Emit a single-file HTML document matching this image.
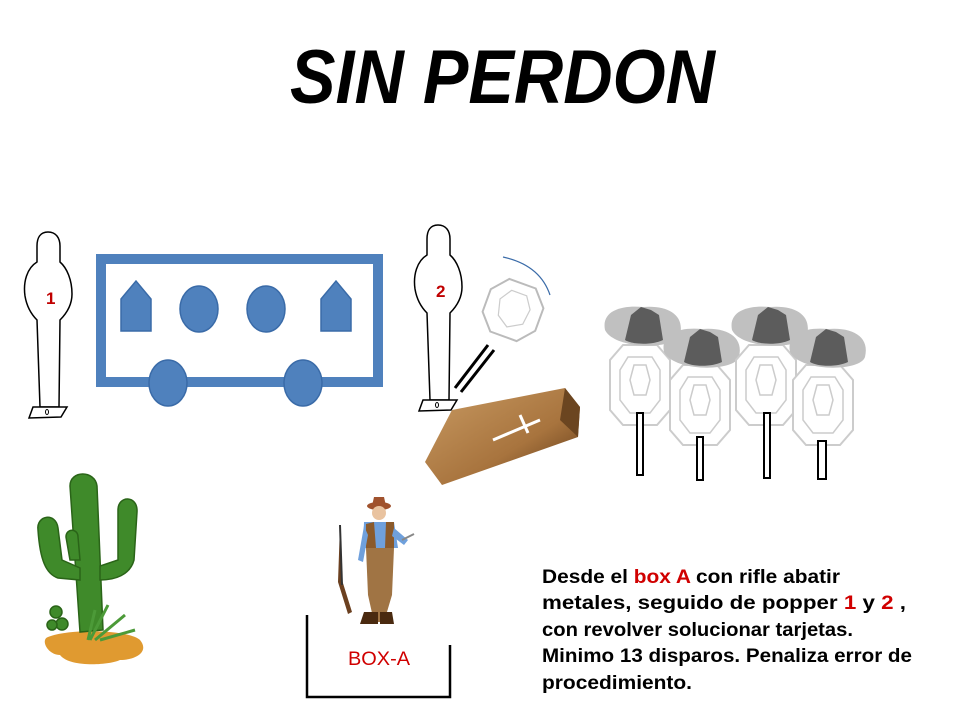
<!DOCTYPE html>
<html><head><meta charset="utf-8"><style>
html,body{margin:0;padding:0;background:#fff;}
svg{display:block;}
text{font-family:"Liberation Sans Narrow","Liberation Sans",sans-serif;}
</style></head><body>
<svg width="960" height="720" viewBox="0 0 960 720" xmlns="http://www.w3.org/2000/svg">
<defs>
<linearGradient id="cof" x1="0" y1="0" x2="1" y2="1">
<stop offset="0" stop-color="#c89a62"/><stop offset="0.6" stop-color="#a8743e"/><stop offset="1" stop-color="#5a3414"/>
</linearGradient>
<g id="sil">
<path d="M23,0 C15,0 12,6 12,14 L12,30 C2,36 -2,50 0,64 C2,76 8,84 12,88 L15,175 L34,175 L35,88 C41,82 47,74 47,62 C47,48 42,36 35,30 L35,14 C35,6 31,0 23,0 Z" fill="#fff" stroke="#000" stroke-width="1.5"/>
<path d="M8,175 L42,175 L36,185 L4,186 Z" fill="#fff" stroke="#000" stroke-width="1.5"/>
<ellipse cx="22" cy="180" rx="1.5" ry="2.5" fill="none" stroke="#000" stroke-width="1"/>
</g>
<g id="tgt">
<path d="M-17,-40 L17,-40 L30,-25 L30,25 L17,40 L-17,40 L-30,25 L-30,-25 Z" fill="#fff" stroke="#ccc" stroke-width="2"/>
<path d="M-12,-28 L12,-28 L20,-15 L20,15 L10,28 L-10,28 L-20,15 L-20,-15 Z" fill="none" stroke="#ccc" stroke-width="1.5"/>
<path d="M-6,-20 L6,-20 L10,-5 L6,10 L-6,10 L-10,-5 Z" fill="none" stroke="#ccc" stroke-width="1.5"/>
</g>
<g id="hat">
<path d="M-38,-5 C-42,-25 -20,-30 0,-28 C25,-30 42,-20 37,0 C32,15 -28,15 -38,-5 Z" fill="#c0c0c0"/>
<path d="M-18,5 L-12,-20 L-2,-28 L8,-25 L16,-20 L20,5 C10,10 -10,10 -18,5 Z" fill="#5c5c5c"/>
</g>
</defs>

<text x="290" y="103" font-family="Liberation Sans" font-size="76" font-weight="bold" font-style="italic" textLength="425" lengthAdjust="spacingAndGlyphs" fill="#000">SIN PERDON</text>

<use href="#sil" x="25" y="232"/>
<text x="46" y="304" font-family="Liberation Sans" font-size="17" font-weight="bold" fill="#c00000">1</text>
<use href="#sil" x="415" y="225"/>
<text x="436" y="297" font-family="Liberation Sans" font-size="17" font-weight="bold" fill="#c00000">2</text>

<rect x="101" y="259" width="277" height="123" fill="none" stroke="#4f81bd" stroke-width="10"/>
<g fill="#4f81bd" stroke="#3a6ba8" stroke-width="1.5">
<path d="M121,299 L136,281 L151,299 L151,331 L121,331 Z"/>
<path d="M321,299 L336,281 L351,299 L351,331 L321,331 Z"/>
<ellipse cx="199" cy="309" rx="19" ry="23"/>
<ellipse cx="266" cy="309" rx="19" ry="23"/>
<ellipse cx="168" cy="383" rx="19" ry="23"/>
<ellipse cx="303" cy="383" rx="19" ry="23"/>
</g>

<path d="M503,257 Q540,265 550,295" fill="none" stroke="#3a6ba8" stroke-width="1.2"/>
<g transform="translate(513,310) rotate(20)">
<path d="M-14,-28 L14,-28 L28,-12 L28,12 L14,28 L-14,28 L-28,12 L-28,-12 Z" fill="#fff" stroke="#bbb" stroke-width="2"/>
<path d="M-8,-18 L8,-18 L16,-6 L14,10 L0,18 L-12,10 L-16,-6 Z" fill="none" stroke="#ccc" stroke-width="1.2"/>
</g>
<path d="M455,388 L488,345 M461,392 L494,350" stroke="#000" stroke-width="3"/>

<path d="M425,462 L452,410 L565,388 L580,407 L578,437 L442,485 Z" fill="url(#cof)"/>
<path d="M565,388 L580,407 L578,437 L560,420 Z" fill="#6b4520"/>
<path d="M493,440 L540,420 M520,415 L528,433" stroke="#fff" stroke-width="3"/>

<g>
<use href="#tgt" x="640" y="385"/>
<rect x="637" y="413" width="6" height="62" fill="#fff" stroke="#000" stroke-width="2"/>
<use href="#hat" x="643" y="335"/>
<use href="#tgt" x="700" y="405"/>
<rect x="697" y="437" width="6" height="43" fill="#fff" stroke="#000" stroke-width="2"/>
<use href="#hat" x="702" y="357"/>
<use href="#tgt" x="766" y="385"/>
<rect x="764" y="413" width="6" height="65" fill="#fff" stroke="#000" stroke-width="2"/>
<use href="#hat" x="770" y="335"/>
<use href="#tgt" x="823" y="405"/>
<rect x="818" y="441" width="8" height="38" fill="#fff" stroke="#000" stroke-width="2"/>
<use href="#hat" x="828" y="357"/>
</g>

<path d="M48,637 C40,640 48,655 60,655 C70,668 110,665 120,660 C135,660 150,652 140,640 C130,630 70,628 48,637 Z" fill="#e09a30"/>
<g fill="#3f8a2a" stroke="#2a6418" stroke-width="1.5">
<path d="M70,486 C70,470 95,470 97,486 L103,630 L80,632 Z"/>
<path d="M38,530 C36,515 56,512 58,528 L62,560 L80,568 L80,580 L58,578 C46,574 40,560 38,530 Z"/>
<path d="M66,537 C66,528 78,528 78,537 L80,560 L70,560 Z"/>
<path d="M118,510 C118,495 138,495 137,512 L134,560 C130,575 115,580 100,580 L100,566 L118,560 Z"/>
<circle cx="56" cy="612" r="6"/><circle cx="62" cy="624" r="6"/><circle cx="52" cy="625" r="5"/>
</g>
<path d="M90,640 L108,605 M95,640 L125,615 M100,640 L135,630 M88,640 L95,610" stroke="#4c9a38" stroke-width="3"/>

<g>
<path d="M340,525 L342,580 L352,612 L348,614 L338,582 Z" fill="#6b4020"/>
<line x1="340" y1="525" x2="342" y2="585" stroke="#333" stroke-width="2"/>
<ellipse cx="379" cy="506" rx="12" ry="4" fill="#a0522d"/>
<path d="M372,506 L374,497 L384,497 L386,506 Z" fill="#a0522d"/>
<circle cx="379" cy="513" r="7" fill="#e9c3a0"/>
<path d="M364,522 L394,522 L398,548 L363,548 Z" fill="#6fa0dc"/>
<path d="M366,524 L374,522 L376,548 L366,548 Z M386,522 L394,522 L394,548 L385,548 Z" fill="#8b5a2b"/>
<path d="M394,528 L408,540 L404,545 L392,536 Z" fill="#6fa0dc"/>
<path d="M364,526 L358,560 L363,562 L368,535 Z" fill="#6fa0dc"/>
<path d="M366,548 L394,548 L392,595 L384,622 L374,622 L368,595 Z" fill="#a07444"/>
<path d="M364,612 L378,612 L378,624 L360,624 Z M380,612 L392,612 L394,624 L380,624 Z" fill="#4a2a10"/>
<line x1="402" y1="540" x2="414" y2="534" stroke="#888" stroke-width="2"/>
</g>

<path d="M307,615 L307,697 L450,697 L450,645" fill="none" stroke="#000" stroke-width="2.5"/>
<text x="348" y="665" font-size="19" textLength="62" lengthAdjust="spacingAndGlyphs" fill="#d00000">BOX-A</text>

<g font-size="19" font-weight="bold" fill="#000">
<text x="542" y="583" textLength="298" lengthAdjust="spacingAndGlyphs">Desde el <tspan fill="#d00000">box A</tspan>  con rifle abatir</text>
<text x="542" y="609" textLength="364" lengthAdjust="spacingAndGlyphs">metales, seguido de popper <tspan fill="#d00000">1</tspan> y  <tspan fill="#d00000">2</tspan> ,</text>
<text x="542" y="636" textLength="311" lengthAdjust="spacingAndGlyphs">con revolver solucionar tarjetas.</text>
<text x="542" y="662" textLength="370" lengthAdjust="spacingAndGlyphs">Minimo 13 disparos. Penaliza error de</text>
<text x="542" y="689" textLength="150" lengthAdjust="spacingAndGlyphs">procedimiento.</text>
</g>
</svg>
</body></html>
